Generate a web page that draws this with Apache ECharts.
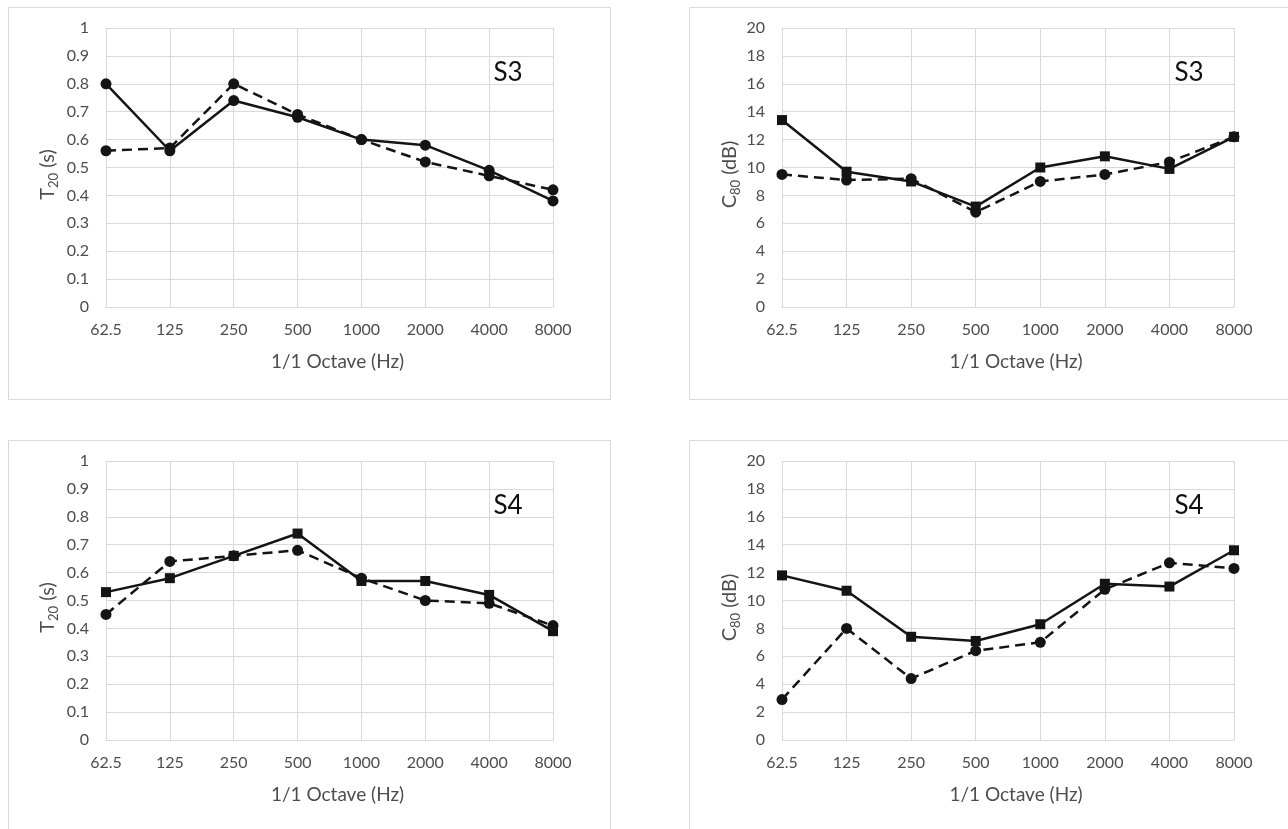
<!DOCTYPE html>
<html>
<head>
<meta charset="utf-8">
<script src="https://cdn.jsdelivr.net/npm/echarts@6/dist/echarts.min.js"></script>
<style>
  html, body { margin: 0; padding: 0; background: #fff; }
  #chart { width: 1288px; height: 829px; }
</style>
</head>
<body>
<div id="chart"></div>
<script>
// Octave-band centre frequencies (category axis)
const freqLabels = ['62.5', '125', '250', '500', '1000', '2000', '4000', '8000'];

// Reverberation time T20 (s), position S3
const t20S3Solid  = [0.80, 0.56, 0.74, 0.68, 0.60, 0.58, 0.49, 0.38];
const t20S3Dashed = [0.56, 0.57, 0.80, 0.69, 0.60, 0.52, 0.47, 0.42];

// Clarity C80 (dB), position S3
const c80S3Solid  = [13.4, 9.7, 9.0, 7.2, 10.0, 10.8, 9.9, 12.2];
const c80S3Dashed = [9.5, 9.1, 9.2, 6.8, 9.0, 9.5, 10.4, 12.2];

// Reverberation time T20 (s), position S4
const t20S4Solid  = [0.53, 0.58, 0.66, 0.74, 0.57, 0.57, 0.52, 0.39];
const t20S4Dashed = [0.45, 0.64, 0.66, 0.68, 0.58, 0.50, 0.49, 0.41];

// Clarity C80 (dB), position S4
const c80S4Solid  = [11.8, 10.7, 7.4, 7.1, 8.3, 11.2, 11.0, 13.6];
const c80S4Dashed = [2.9, 8.0, 4.4, 6.4, 7.0, 10.8, 12.7, 12.3];

const FONT = 'Lato, "Open Sans", sans-serif';
const TEXT = '#4d4d4d';
const GRID = '#d9d9d9';
const INK = '#141414';

const panels = [
  { grid: { left: 106, top: 28, width: 447, height: 279 }, max: 1, interval: 0.1, q: 'T', sub: '20', unit: ' (s)', tag: 'S3', gap: 46,
    solid: t20S3Solid, dashed: t20S3Dashed, solidSym: 'circle' },
  { grid: { left: 782, top: 28, width: 452, height: 279 }, max: 20, interval: 2, q: 'C', sub: '80', unit: ' (dB)', tag: 'S3', gap: 40,
    solid: c80S3Solid, dashed: c80S3Dashed, solidSym: 'rect' },
  { grid: { left: 106, top: 461, width: 447, height: 279 }, max: 1, interval: 0.1, q: 'T', sub: '20', unit: ' (s)', tag: 'S4', gap: 46,
    solid: t20S4Solid, dashed: t20S4Dashed, solidSym: 'rect' },
  { grid: { left: 782, top: 461, width: 452, height: 279 }, max: 20, interval: 2, q: 'C', sub: '80', unit: ' (dB)', tag: 'S4', gap: 40,
    solid: c80S4Solid, dashed: c80S4Dashed, solidSym: 'rect' }
];

const grids = [], xAxes = [], yAxes = [], series = [], graphics = [];

// Chart-area frames around each panel
const frames = [
  { x: 8.5, y: 7.5, width: 602, height: 392 },
  { x: 689.5, y: 7.5, width: 602, height: 392 },
  { x: 8.5, y: 440.5, width: 602, height: 400 },
  { x: 689.5, y: 440.5, width: 602, height: 400 }
];
frames.forEach(f => graphics.push({
  type: 'rect', shape: f, z: -10,
  style: { fill: '#fff', stroke: GRID, lineWidth: 1 }
}));

panels.forEach((p, i) => {
  grids.push(p.grid);
  xAxes.push({
    type: 'category', gridIndex: i, data: freqLabels, boundaryGap: false,
    axisLine: { lineStyle: { color: GRID, width: 1 } },
    axisTick: { show: false },
    axisLabel: { color: TEXT, fontFamily: FONT, fontSize: 16, margin: 15 },
    splitLine: { show: true, lineStyle: { color: GRID, width: 1 } },
    name: '1/1 Octave (Hz)', nameLocation: 'middle', nameGap: 45,
    nameTextStyle: { color: TEXT, fontFamily: FONT, fontSize: 19, padding: [0, 0, 0, 16] }
  });
  yAxes.push({
    type: 'value', gridIndex: i, min: 0, max: p.max, interval: p.interval,
    axisLine: { show: false }, axisTick: { show: false },
    axisLabel: { color: TEXT, fontFamily: FONT, fontSize: 16, margin: 17 },
    splitLine: { lineStyle: { color: GRID, width: 1 } },
    name: '{m|' + p.q + '}{s|' + p.sub + '}{m|' + p.unit + '}',
    nameLocation: 'middle', nameRotate: 90, nameGap: p.gap,
    nameTextStyle: {
      color: TEXT, fontFamily: FONT, fontSize: 20, padding: [0, 0, 0, -14],
      rich: {
        m: { color: TEXT, fontFamily: FONT, fontSize: 20 },
        s: { color: TEXT, fontFamily: FONT, fontSize: 13, padding: [11, 0, 0, 0] }
      }
    }
  });
  series.push({
    type: 'line', xAxisIndex: i, yAxisIndex: i, data: p.dashed,
    symbol: 'circle', symbolSize: 11,
    lineStyle: { color: INK, width: 2.5, type: [10, 6] },
    itemStyle: { color: INK }, silent: true, animation: false, z: 2
  });
  series.push({
    type: 'line', xAxisIndex: i, yAxisIndex: i, data: p.solid,
    symbol: p.solidSym, symbolSize: p.solidSym === 'rect' ? 10 : 11,
    lineStyle: { color: INK, width: 2.5 },
    itemStyle: { color: INK }, silent: true, animation: false, z: 3
  });
  graphics.push({
    type: 'text', x: p.grid.left + p.grid.width - 45, y: p.grid.top + 45,
    style: { text: p.tag, fontFamily: FONT, fontSize: 26, fill: '#111', align: 'center', verticalAlign: 'middle' }
  });
});

const chart = echarts.init(document.getElementById('chart'), null, { renderer: 'canvas' });
chart.setOption({
  backgroundColor: '#fff',
  animation: false,
  grid: grids,
  xAxis: xAxes,
  yAxis: yAxes,
  series: series,
  graphic: graphics
});
</script>
</body>
</html>
